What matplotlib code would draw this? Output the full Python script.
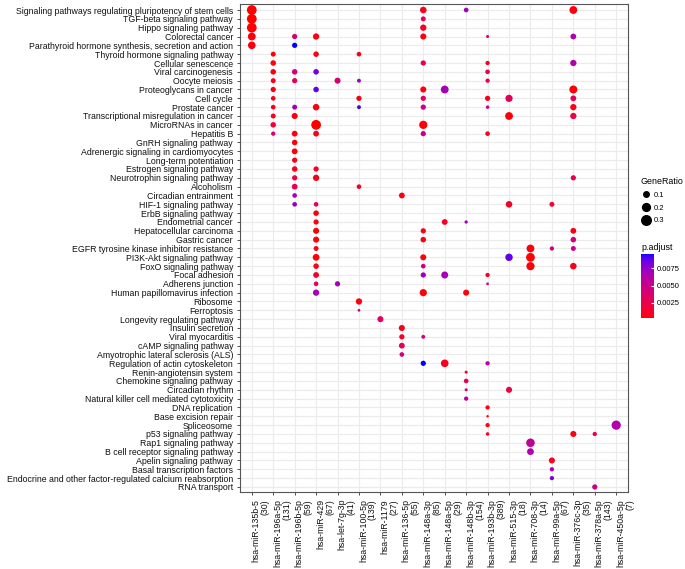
import numpy as np
import matplotlib
matplotlib.use("Agg")
import matplotlib.pyplot as plt
from matplotlib.colors import ListedColormap
from matplotlib.lines import Line2D

plt.rcParams['font.family'] = ['Liberation Sans', 'DejaVu Sans']

# ---------------- data ----------------
pathways = [
    "Signaling pathways regulating pluripotency of stem cells",
    "TGF-beta signaling pathway",
    "Hippo signaling pathway",
    "Colorectal cancer",
    "Parathyroid hormone synthesis, secretion and action",
    "Thyroid hormone signaling pathway",
    "Cellular senescence",
    "Viral carcinogenesis",
    "Oocyte meiosis",
    "Proteoglycans in cancer",
    "Cell cycle",
    "Prostate cancer",
    "Transcriptional misregulation in cancer",
    "MicroRNAs in cancer",
    "Hepatitis B",
    "GnRH signaling pathway",
    "Adrenergic signaling in cardiomyocytes",
    "Long-term potentiation",
    "Estrogen signaling pathway",
    "Neurotrophin signaling pathway",
    "Alcoholism",
    "Circadian entrainment",
    "HIF-1 signaling pathway",
    "ErbB signaling pathway",
    "Endometrial cancer",
    "Hepatocellular carcinoma",
    "Gastric cancer",
    "EGFR tyrosine kinase inhibitor resistance",
    "PI3K-Akt signaling pathway",
    "FoxO signaling pathway",
    "Focal adhesion",
    "Adherens junction",
    "Human papillomavirus infection",
    "Ribosome",
    "Ferroptosis",
    "Longevity regulating pathway",
    "Insulin secretion",
    "Viral myocarditis",
    "cAMP signaling pathway",
    "Amyotrophic lateral sclerosis (ALS)",
    "Regulation of actin cytoskeleton",
    "Renin-angiotensin system",
    "Chemokine signaling pathway",
    "Circadian rhythm",
    "Natural killer cell mediated cytotoxicity",
    "DNA replication",
    "Base excision repair",
    "Spliceosome",
    "p53 signaling pathway",
    "Rap1 signaling pathway",
    "B cell receptor signaling pathway",
    "Apelin signaling pathway",
    "Basal transcription factors",
    "Endocrine and other factor-regulated calcium reabsorption",
    "RNA transport",
]

mirnas = ["hsa-miR-135b-5", "hsa-miR-196a-5p", "hsa-miR-196b-5p", "hsa-miR-429",
          "hsa-let-7g-3p", "hsa-miR-100-5p", "hsa-miR-1179", "hsa-miR-136-5p",
          "hsa-miR-148a-3p", "hsa-miR-148a-5p", "hsa-miR-148b-3p", "hsa-miR-193b-3p",
          "hsa-miR-515-3p", "hsa-miR-708-3p", "hsa-miR-99a-5p", "hsa-miR-376c-3p",
          "hsa-miR-378a-5p", "hsa-miR-450a-5p"]
mirna_counts = [30, 131, 59, 67, 41, 139, 27, 55, 85, 29, 154, 389, 18, 14, 67, 35, 143, 7]

# each dot: pathway index (1-based), miRNA index (1-based)
dot_pathway = [1, 1, 1, 1,
               2, 2,
               3, 3,
               4, 4, 4, 4, 4, 4,
               5, 5,
               6, 6, 6,
               7, 7, 7, 7,
               8, 8, 8, 8,
               9, 9, 9, 9, 9,
               10, 10, 10, 10, 10,
               11, 11, 11, 11, 11, 11,
               12, 12, 12, 12, 12, 12, 12,
               13, 13, 13, 13,
               14, 14, 14,
               15, 15, 15, 15, 15,
               16, 17, 18, 19, 19,
               20, 20, 20,
               21, 21,
               22, 22,
               23, 23, 23, 23,
               24,
               25, 25, 25,
               26, 26, 26,
               27, 27, 27,
               28, 28, 28, 28,
               29, 29, 29, 29,
               30, 30, 30, 30,
               31, 31, 31, 31,
               32, 32, 32,
               33, 33, 33,
               34, 35, 36, 37,
               38, 38,
               39, 40,
               41, 41, 41,
               42, 43,
               44, 44,
               45, 46, 47,
               48, 48,
               49, 49, 49,
               50, 51, 52, 53, 54, 55]
dot_mirna = [1, 9, 11, 16,
             1, 9,
             1, 9,
             1, 3, 4, 9, 12, 16,
             1, 3,
             2, 4, 6,
             2, 9, 12, 16,
             2, 3, 4, 12,
             2, 3, 5, 6, 12,
             2, 4, 9, 10, 16,
             2, 6, 9, 12, 13, 16,
             2, 3, 4, 6, 9, 12, 16,
             2, 3, 13, 16,
             2, 4, 9,
             2, 3, 4, 9, 12,
             3, 3, 3, 3, 4,
             3, 4, 16,
             3, 6,
             3, 8,
             3, 4, 13, 15,
             4,
             4, 10, 11,
             4, 9, 16,
             4, 9, 16,
             4, 14, 15, 16,
             4, 9, 13, 14,
             4, 9, 14, 16,
             4, 9, 10, 12,
             4, 5, 12,
             4, 9, 11,
             6, 6, 7, 8,
             8, 9,
             8, 8,
             9, 10, 12,
             11, 11,
             11, 13,
             11, 12, 12,
             12, 18,
             12, 16, 17,
             14, 14, 15, 15, 15, 17]
gene_ratio = [0.31, 0.14, 0.07, 0.20,
              0.31, 0.08,
              0.31, 0.13,
              0.20, 0.09, 0.13, 0.12, 0.03, 0.11,
              0.19, 0.09,
              0.08, 0.10, 0.07,
              0.10, 0.09, 0.06, 0.13,
              0.10, 0.10, 0.10, 0.07,
              0.08, 0.09, 0.12, 0.05, 0.06,
              0.09, 0.10, 0.12, 0.20, 0.21,
              0.07, 0.09, 0.09, 0.09, 0.17, 0.11,
              0.07, 0.08, 0.14, 0.05, 0.09, 0.04, 0.13,
              0.08, 0.12, 0.20, 0.13,
              0.10, 0.31, 0.22,
              0.06, 0.11, 0.11, 0.09, 0.07,
              0.10, 0.11, 0.09, 0.10, 0.09,
              0.09, 0.13, 0.09,
              0.11, 0.07,
              0.07, 0.11,
              0.07, 0.07, 0.14, 0.08,
              0.10,
              0.09, 0.11, 0.035,
              0.12, 0.09, 0.11,
              0.12, 0.10, 0.10,
              0.08, 0.20, 0.06, 0.08,
              0.15, 0.12, 0.18, 0.25,
              0.10, 0.07, 0.22, 0.14,
              0.11, 0.09, 0.16, 0.06,
              0.07, 0.09, 0.025,
              0.13, 0.17, 0.12,
              0.13, 0.025, 0.12, 0.12,
              0.09, 0.05,
              0.11, 0.07,
              0.09, 0.19, 0.06,
              0.03, 0.07,
              0.03, 0.12,
              0.06, 0.06, 0.02,
              0.06, 0.28,
              0.04, 0.12, 0.06,
              0.24, 0.15, 0.12, 0.06, 0.06, 0.09]
p_adjust = [0.0003, 0.0008, 0.0072, 0.0005,
            0.0003, 0.0028,
            0.0004, 0.0008,
            0.0005, 0.0042, 0.0006, 0.0006, 0.0045, 0.0065,
            0.0006, 0.0096,
            0.0005, 0.0008, 0.0010,
            0.0005, 0.0025, 0.0012, 0.0062,
            0.0005, 0.0045, 0.0085, 0.0025,
            0.0008, 0.0030, 0.0040, 0.0072, 0.0025,
            0.0005, 0.0088, 0.0005, 0.0068, 0.0004,
            0.0008, 0.0005, 0.0030, 0.0008, 0.0028, 0.0028,
            0.0010, 0.0068, 0.0005, 0.0092, 0.0048, 0.0048, 0.0006,
            0.0008, 0.0006, 0.0004, 0.0022,
            0.0018, 0.0003, 0.0004,
            0.0042, 0.0006, 0.0008, 0.0048, 0.0010,
            0.0005, 0.0005, 0.0008, 0.0008, 0.0012,
            0.0020, 0.0006, 0.0025,
            0.0025, 0.0010,
            0.0068, 0.0006,
            0.0075, 0.0022, 0.0012, 0.0015,
            0.0006,
            0.0006, 0.0012, 0.0068,
            0.0004, 0.0008, 0.0006,
            0.0004, 0.0005, 0.0045,
            0.0008, 0.0005, 0.0048, 0.0050,
            0.0004, 0.0005, 0.0088, 0.0004,
            0.0008, 0.0048, 0.0004, 0.0008,
            0.0012, 0.0070, 0.0068, 0.0012,
            0.0028, 0.0068, 0.0045,
            0.0068, 0.0004, 0.0005,
            0.0006, 0.0048, 0.0032, 0.0006,
            0.0012, 0.0045,
            0.0028, 0.0045,
            0.0096, 0.0008, 0.0058,
            0.0012, 0.0028,
            0.0040, 0.0020,
            0.0060, 0.0008, 0.0010,
            0.0008, 0.0062,
            0.0010, 0.0006, 0.0022,
            0.0055, 0.0065, 0.0009, 0.0068, 0.0080, 0.0050]

size_breaks = [0.1, 0.2, 0.3]
color_ticks = [0.0025, 0.0050, 0.0075]

# ---------------- colour map: Lab interpolation red -> blue (ggplot style) ----------------
_WHITE = np.array([0.95047, 1.0, 1.08883])
_M = np.array([[0.4124564, 0.3575761, 0.1804375],
               [0.2126729, 0.7151522, 0.0721750],
               [0.0193339, 0.1191920, 0.9503041]])


def _rgb2lab(rgb):
    c = np.asarray(rgb, float)
    lin = np.where(c <= 0.04045, c / 12.92, ((c + 0.055) / 1.055) ** 2.4)
    xyz = _M @ lin / _WHITE
    d = 6 / 29
    f = np.where(xyz > d ** 3, np.cbrt(xyz), xyz / (3 * d * d) + 4 / 29)
    return np.array([116 * f[1] - 16, 500 * (f[0] - f[1]), 200 * (f[1] - f[2])])


def _lab2rgb(lab):
    L, a, b = lab
    fy = (L + 16) / 116
    fx = fy + a / 500
    fz = fy - b / 200
    d = 6 / 29
    f = np.array([fx, fy, fz])
    xyz = np.where(f > d, f ** 3, 3 * d * d * (f - 4 / 29)) * _WHITE
    lin = np.linalg.solve(_M, xyz)
    lin = np.clip(lin, 0, 1)
    c = np.where(lin <= 0.0031308, 12.92 * lin, 1.055 * lin ** (1 / 2.4) - 0.055)
    return np.clip(c, 0, 1)


lab_lo = _rgb2lab([1, 0, 0])
lab_hi = _rgb2lab([0, 0, 1])
cols_ = [_lab2rgb(lab_lo + (lab_hi - lab_lo) * t) for t in np.linspace(0, 1, 256)]
cmap = ListedColormap(cols_)

# ---------------- figure ----------------
W, H = 685, 569
fig = plt.figure(figsize=(W / 100, H / 100), dpi=100)
ax = fig.add_axes([240 / W, 1 - 492 / H, 388 / W, 488 / H])

K = 17.5  # px diameter per sqrt(ratio)


def marker_area(r):
    d_px = K * np.sqrt(np.asarray(r, float))
    return (d_px * 72 / 100) ** 2


xs = np.array(dot_mirna) - 1
ys = np.array(dot_pathway) - 1
vmin, vmax = min(p_adjust), max(p_adjust)
sc = ax.scatter(xs, ys, s=marker_area(gene_ratio), c=p_adjust, cmap=cmap,
                vmin=vmin, vmax=vmax, edgecolors='none', zorder=3)

ax.set_xlim(-0.55, len(mirnas) - 1 + 0.55)
ax.set_ylim(len(pathways) - 1 + 0.57, -0.68)
ax.set_yticks(range(len(pathways)))
ax.set_yticklabels(pathways)
ax.set_xticks(range(len(mirnas)))
ax.set_xticklabels([f"{m}\n({n})" for m, n in zip(mirnas, mirna_counts)],
                   rotation=90, rotation_mode='anchor', ha='right', va='top',
                   multialignment='right', linespacing=1.0)
ax.set_axisbelow(True)
ax.grid(True, color='#ebebeb', lw=0.8)
for sp in ax.spines.values():
    sp.set_color('#555555')
    sp.set_linewidth(0.8)
ax.tick_params(axis='both', length=2.5, width=0.6, color='#333333',
               labelsize=6.3, labelcolor='#111111', pad=2.5)
ax.tick_params(axis='x', pad=2.5)

# size legend
handles = [Line2D([], [], marker='o', ls='', color='black',
                  markersize=np.sqrt(marker_area(b))) for b in size_breaks]
leg = ax.legend(handles, [f"{b:.1f}" for b in size_breaks], title="GeneRatio",
                loc='upper left', bbox_to_anchor=(638 / W, 1 - 175 / H),
                bbox_transform=fig.transFigure, frameon=False, fontsize=5.5,
                title_fontsize=6.4, handletextpad=0.2, labelspacing=0.7,
                handlelength=1.6, borderaxespad=0, borderpad=0.3)
leg._legend_box.align = "left"

# colour bar
cax = fig.add_axes([641 / W, 1 - 318 / H, 13 / W, 64 / H])
cb = fig.colorbar(sc, cax=cax, ticks=color_ticks, format='%.4f')
cb.outline.set_visible(False)
cax.tick_params(length=2, color='white', direction='in', labelsize=5.5, pad=2)
fig.text(641 / W, 1 - 247 / H, "p.adjust", fontsize=6.4, va='center', ha='left')

fig.savefig("out.png", dpi=100)
